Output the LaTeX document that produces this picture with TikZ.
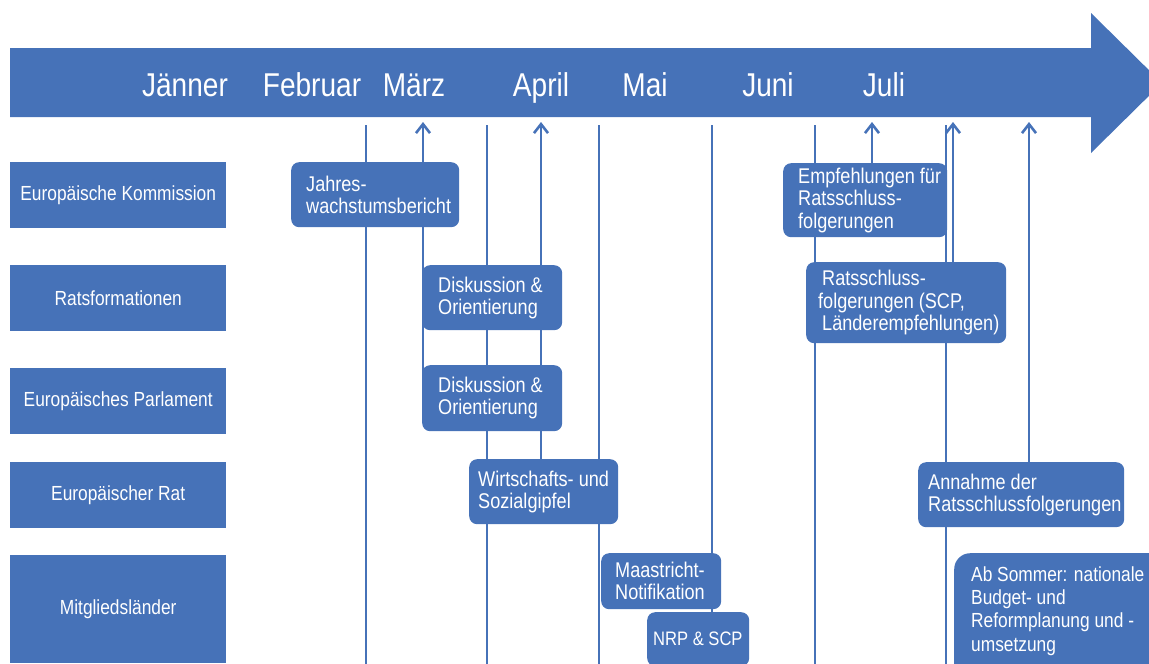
\documentclass[tikz,border=0pt]{standalone}
\usepackage{fontspec}
\setmainfont{Liberation Sans}[FakeStretch=0.85]
\usetikzlibrary{arrows.meta}
\definecolor{eublue}{HTML}{4672B8}
\pgfdeclarelayer{bg}
\pgfsetlayers{bg,main}
\begin{document}
\begin{tikzpicture}[x=1pt,y=-1pt,
  lab/.style={fill=eublue,text=white,font=\fontsize{20.4}{24}\selectfont,inner sep=0pt,minimum width=216pt,anchor=north west},
  evbox/.style={fill=eublue,rounded corners=8pt,inner sep=0pt,anchor=north west},
  evtext/.style={text=white,font=\fontsize{21.3}{22.3}\selectfont,align=left,inner sep=0pt,anchor=west},
  month/.style={text=white,font=\fontsize{33}{36}\selectfont,anchor=base,inner sep=0pt},
  vline/.style={draw=eublue,line width=2.6pt},
  varr/.style={vline,-{Straight Barb[length=9pt,width=14pt]}}]
\useasboundingbox (0,0) rectangle (1149,664);
% big timeline arrow
\fill[eublue] (10,48) -- (1091,48) -- (1091,13) -- (1162,83) -- (1091,153) -- (1091,117) -- (10,117) -- cycle;
\node[month] (m1) at (185,96) {Jänner};
\node[month] (m2) at (312,96) {Februar};
\node[month] (m3) at (414,96) {März};
\node[month] (m4) at (541,96) {April};
\node[month] (m5) at (645,96) {Mai};
\node[month] (m6) at (768,96) {Juni};
\node[month] (m7) at (884,96) {Juli};
% row labels
\node[lab,minimum height=66pt] (r1) at (10,162) {Europäische Kommission};
\node[lab,minimum height=66pt] (r2) at (10,265) {Ratsformationen};
\node[lab,minimum height=66pt] (r3) at (10,368) {Europäisches Parlament};
\node[lab,minimum height=66pt] (r4) at (10,462) {Europäischer Rat};
\node[lab,minimum height=108pt] (r5) at (10,555) {Mitgliedsländer};
% event boxes
\node[evbox,minimum width=168pt,minimum height=65pt] (jahres) at (291,162) {};
\node[evtext] (jahrest) at ([xshift=15pt]jahres.west) {Jahres-\\wachstumsbericht};
\node[evbox,minimum width=140pt,minimum height=65pt] (disk1) at (422,265) {};
\node[evtext] (disk1t) at ([xshift=16pt]disk1.west) {Diskussion \&\\Orientierung};
\node[evbox,minimum width=140pt,minimum height=66pt] (disk2) at (422,365) {};
\node[evtext] (disk2t) at ([xshift=16pt]disk2.west) {Diskussion \&\\Orientierung};
\node[evbox,minimum width=149pt,minimum height=65pt] (wirt) at (469,459) {};
\node[evtext] (wirtt) at ([xshift=9pt]wirt.west) {Wirtschafts- und\\Sozialgipfel};
\node[evbox,minimum width=120pt,minimum height=56pt] (maas) at (601,553) {};
\node[evtext] (maast) at ([xshift=14pt]maas.west) {Maastricht-\\Notifikation};
\node[evbox,minimum width=102pt,minimum height=54pt] (nrp) at (647,612) {};
\node[evtext,font=\fontsize{19.5}{22}\selectfont] (nrpt) at ([xshift=6pt]nrp.west) {NRP \& SCP};
\node[evbox,minimum width=164pt,minimum height=74pt] (emp) at (783,163) {};
\node[evtext] (empt) at ([xshift=15pt]emp.west) {Empfehlungen für\\Ratsschluss-\\folgerungen};
\node[evbox,minimum width=200pt,minimum height=81pt] (rats) at (806,262) {};
\node[evtext] (ratst) at ([xshift=12pt]rats.west) {\hspace*{4pt}Ratsschluss-\\folgerungen (SCP,\\\hspace*{4pt}Länderempfehlungen)};
\node[evbox,minimum width=206pt,minimum height=65pt] (annahme) at (918,462) {};
\node[evtext] (annahmet) at ([xshift=10pt]annahme.west) {Annahme der\\Ratsschlussfolgerungen};
\node[evbox,rounded corners=16pt,minimum width=230pt,minimum height=130pt] (abs) at (954,553) {};
\node[evtext,font=\fontsize{20.4}{23.3}\selectfont] (abst) at (971,611) {Ab Sommer: nationale\\Budget- und\\Reformplanung und -\\umsetzung};
% vertical lines and arrows
\begin{pgfonlayer}{bg}
\foreach \x in {366,487,599,815,946} {
  \coordinate (t\x) at (\x,125);
  \coordinate (b\x) at (\x,672);
  \draw[vline] (t\x) -- (b\x);
}
\coordinate (t712) at (712,125);
\draw[vline] (t712) -- (nrp.north -| t712);
\coordinate (a423) at (423,122);
\coordinate (a541) at (541,122);
\coordinate (a872) at (872,122);
\coordinate (a953) at (953,122);
\coordinate (a1029) at (1029,122);
\draw[varr] (disk2.west -| a423) -- (a423);
\draw[varr] (wirt.north -| a541) -- (a541);
\draw[varr] (emp.north -| a872) -- (a872);
\draw[varr] (rats.north -| a953) -- (a953);
\draw[varr] (annahme.north -| a1029) -- (a1029);
\end{pgfonlayer}
\end{tikzpicture}
\end{document}
